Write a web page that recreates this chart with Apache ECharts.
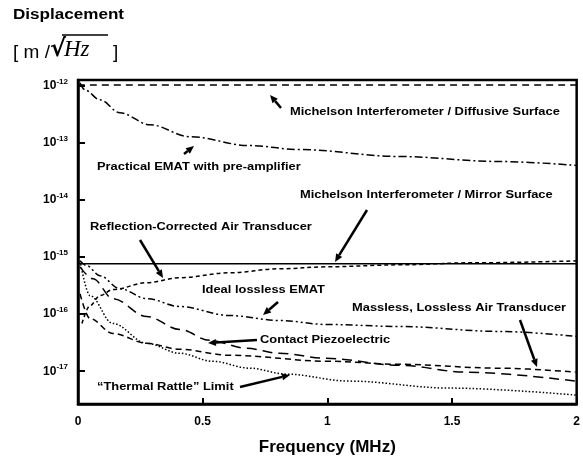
<!DOCTYPE html>
<html><head><meta charset="utf-8">
<script src="https://cdn.jsdelivr.net/npm/echarts@6/dist/echarts.min.js"></script>
<style>html,body{margin:0;padding:0;background:#fff}#c{width:583px;height:461px}</style>
</head><body><div id="c"></div>
<script>
// ---- data (frequency in MHz, displacement in m/sqrt(Hz)) ----
var xTicks = [0, 0.5, 1, 1.5, 2];
var yTickExponents = [-12, -13, -14, -15, -16, -17];

var diffuseFreq = [0, 2];
var diffuseVal  = [1.04e-12, 1.04e-12];

var practicalFreq = [0.008, 0.028, 0.088, 0.168, 0.288, 0.448, 0.688, 0.888, 1.288, 1.688, 2.0];
var practicalVal  = [1.13e-12, 8.5e-13, 5.7e-13, 3.39e-13, 2.09e-13, 1.29e-13, 9.0e-14, 7.67e-14, 5.79e-14, 4.74e-14, 4.04e-14];

var mirrorFreq = [0, 2];
var mirrorVal  = [7.62e-16, 7.62e-16];

var reflectFreq = [0.016, 0.048, 0.088, 0.14, 0.276, 0.408, 0.608, 0.808, 0.996, 1.288, 1.58, 2.0];
var reflectVal  = [6.85e-17, 1.41e-16, 2.11e-16, 2.69e-16, 3.56e-16, 4.35e-16, 5.31e-16, 6.23e-16, 6.75e-16, 7.31e-16, 7.93e-16, 8.59e-16];

var idealFreq = [0.008, 0.036, 0.088, 0.168, 0.276, 0.408, 0.608, 0.808, 0.996, 1.288, 1.688, 2.0];
var idealVal  = [8.59e-16, 7.03e-16, 4.70e-16, 2.79e-16, 1.87e-16, 1.36e-16, 9.46e-17, 7.74e-17, 6.59e-17, 6.08e-17, 4.98e-17, 4.07e-17];

var piezoFreq = [0.008, 0.06, 0.14, 0.276, 0.408, 0.528, 0.676, 0.808, 0.996, 1.288, 1.556, 1.996];
var piezoVal  = [6.75e-16, 4.17e-16, 1.87e-16, 9.08e-17, 5.40e-17, 3.47e-17, 2.52e-17, 2.06e-17, 1.68e-17, 1.27e-17, 9.62e-18, 6.70e-18];

var masslessFreq = [0.008, 0.048, 0.14, 0.276, 0.408, 0.608, 1.008, 1.288, 1.688, 1.996];
var masslessVal  = [2.28e-16, 8.38e-17, 4.59e-17, 3.08e-17, 2.42e-17, 1.90e-17, 1.49e-17, 1.32e-17, 1.13e-17, 9.62e-18];

var thermalFreq = [0.008, 0.048, 0.14, 0.276, 0.408, 0.54, 0.688, 0.836, 1.088, 1.488, 1.996];
var thermalVal  = [8.59e-16, 2.11e-16, 6.85e-17, 3.08e-17, 2.06e-17, 1.49e-17, 1.13e-17, 8.87e-18, 6.70e-18, 5.06e-18, 3.82e-18];

var labels = [
  'Michelson Interferometer / Diffusive Surface',
  'Practical EMAT with pre-amplifier',
  'Michelson Interferometer / Mirror Surface',
  'Reflection-Corrected Air Transducer',
  'Ideal lossless EMAT',
  'Massless, Lossless Air Transducer',
  'Contact Piezoelectric',
  '\u201cThermal Rattle\u201d Limit'
];

// ---- layout of annotations (pixels) ----
var labelPos = [[290,112],[97,167],[300,195],[90,227],[202,290],[352,308],[260,340],[97,387]];
var arrowPos = [
  [[281,108],[270,95]],
  [[184,154],[194,146]],
  [[367,210],[335,262]],
  [[140,240],[163,278]],
  [[278,302],[263,315]],
  [[520,320],[537,367]],
  [[257,340],[208,343]],
  [[240,387],[290,375]]
];

function zip(a, b) { return a.map(function (v, i) { return [v, b[i]]; }); }

function mkSeries(name, fx, fy, dash) {
  return {
    name: name, type: 'line', data: zip(fx, fy),
    showSymbol: false, symbol: 'none', smooth: 0.35, smoothMonotone: 'x',
    lineStyle: { color: '#000', width: 1.5, type: dash },
    silent: true
  };
}

var graphics = [];
var FONT = 'Liberation Sans, Arial, sans-serif';
labels.forEach(function (t, i) {
  graphics.push({ type: 'text', x: labelPos[i][0], y: labelPos[i][1], scaleX: 1.12,
    style: { text: t, font: 'bold 11.5px ' + FONT, fill: '#000', verticalAlign: 'middle', align: 'left' } });
});
arrowPos.forEach(function (a) {
  var p0 = a[0], p1 = a[1];
  var dx = p1[0] - p0[0], dy = p1[1] - p0[1];
  var L = Math.sqrt(dx * dx + dy * dy), ux = dx / L, uy = dy / L;
  var hl = 8, hw = 3.5;
  var bx = p1[0] - ux * hl, by = p1[1] - uy * hl;
  graphics.push({ type: 'line', shape: { x1: p0[0], y1: p0[1], x2: bx, y2: by },
    style: { stroke: '#000', lineWidth: 2.5 } });
  graphics.push({ type: 'polygon', shape: { points: [[p1[0], p1[1]], [bx - uy * hw, by + ux * hw], [bx + uy * hw, by - ux * hw]] },
    style: { fill: '#000' } });
});
// title and unit
graphics.push({ type: 'text', x: 13, y: 15, scaleX: 1.22,
  style: { text: 'Displacement', font: 'bold 14px ' + FONT, fill: '#000', verticalAlign: 'middle' } });
graphics.push({ type: 'text', x: 13, y: 53, style: { text: '[ m /', font: '19px ' + FONT, fill: '#000', verticalAlign: 'middle' } });
graphics.push({ type: 'text', x: 50, y: 50, style: { text: '\u221a', font: 'bold 24px DejaVu Sans', fill: '#000', verticalAlign: 'middle' } });
graphics.push({ type: 'text', x: 64, y: 50, style: { text: 'Hz', font: 'italic 23px Liberation Serif', fill: '#000', verticalAlign: 'middle' } });
graphics.push({ type: 'text', x: 113, y: 53, style: { text: ']', font: '19px ' + FONT, fill: '#000', verticalAlign: 'middle' } });
graphics.push({ type: 'line', shape: { x1: 62, y1: 35, x2: 108, y2: 35 }, style: { stroke: '#000', lineWidth: 1.3 } });

var chart = echarts.init(document.getElementById('c'), null, { renderer: 'canvas' });
chart.setOption({
  animation: false,
  backgroundColor: '#fff',
  grid: { left: 78, right: 5, top: 80, bottom: 55, show: true, borderColor: '#000', borderWidth: 2.5, containLabel: false },
  xAxis: {
    type: 'value', min: xTicks[0], max: xTicks[xTicks.length - 1], interval: 0.5,
    axisLine: { lineStyle: { color: '#000', width: 2.5 } },
    axisTick: { inside: true, length: 6, lineStyle: { color: '#000', width: 2 } },
    splitLine: { show: false },
    axisLabel: { color: '#000', fontWeight: 'bold', fontSize: 12, fontFamily: FONT, margin: 12,
      formatter: function (v) { return xTicks.indexOf(v) >= 0 ? String(v) : ''; } },
    name: 'Frequency (MHz)', nameLocation: 'middle', nameGap: 35,
    nameTextStyle: { color: '#000', fontWeight: 'bold', fontSize: 17, fontFamily: FONT }
  },
  yAxis: {
    type: 'log', logBase: 10, min: 2.66e-18, max: 1.27e-12, splitNumber: 5,
    axisLine: { lineStyle: { color: '#000', width: 2.5 } },
    axisTick: { inside: true, length: 7, lineStyle: { color: '#000', width: 2 } },
    splitLine: { show: false },
    axisLabel: { color: '#000', fontWeight: 'bold', fontSize: 12, fontFamily: FONT, margin: 10,
      formatter: function (v) {
        var e = Math.log10(v), r = Math.round(e);
        if (Math.abs(e - r) > 0.01 || yTickExponents.indexOf(r) < 0) return '';
        return '10{s|' + r + '}';
      },
      rich: { s: { fontSize: 8, fontWeight: 'bold', fontFamily: FONT, color: '#000', padding: [0, 0, 8, 0] } }
    }
  },
  series: [
    mkSeries(labels[0], diffuseFreq, diffuseVal, [7, 5]),
    mkSeries(labels[1], practicalFreq, practicalVal, [8, 3, 2, 3]),
    mkSeries(labels[2], mirrorFreq, mirrorVal, 'solid'),
    mkSeries(labels[3], reflectFreq, reflectVal, [4, 3]),
    mkSeries(labels[4], idealFreq, idealVal, [7, 3, 2, 3, 2, 3]),
    mkSeries(labels[6], piezoFreq, piezoVal, [10, 6]),
    mkSeries(labels[5], masslessFreq, masslessVal, [6, 4]),
    mkSeries(labels[7], thermalFreq, thermalVal, [1.5, 2])
  ],
  graphic: graphics
});
</script></body></html>
